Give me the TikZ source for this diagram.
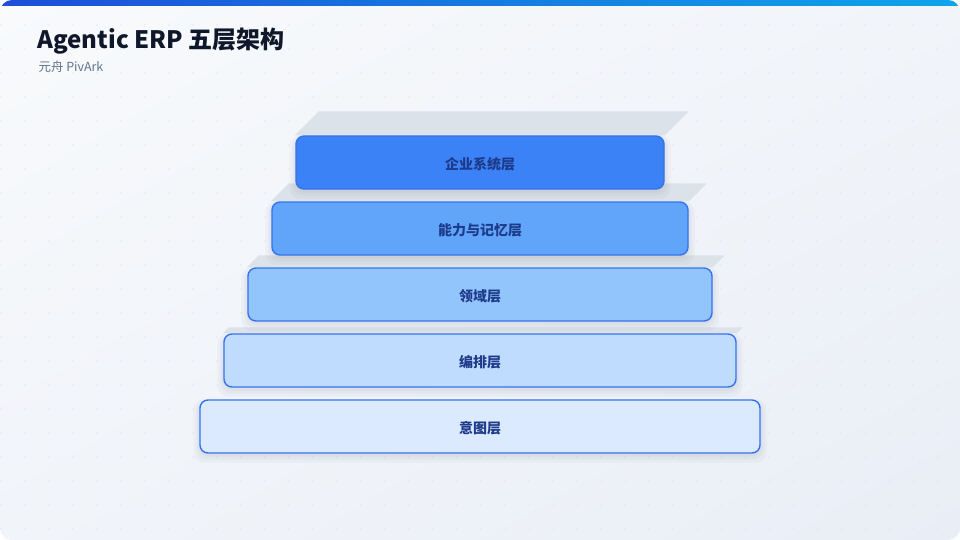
\documentclass[tikz,border=0pt]{standalone}
\usepackage{fontspec}
\setmainfont{Noto Sans CJK SC}
\usetikzlibrary{shadings}
\pgfdeclarelayer{shad}
\pgfsetlayers{shad,main}
\definecolor{bgA}{HTML}{F8FAFC}
\definecolor{bgB}{HTML}{F1F4F9}
\definecolor{bgC}{HTML}{E9EEF6}
\definecolor{barA}{HTML}{1D4ED8}
\definecolor{barB}{HTML}{0EA5E9}
\definecolor{titlec}{HTML}{0F172A}
\definecolor{subc}{HTML}{64748B}
\definecolor{dotc}{HTML}{E3E8EF}
\definecolor{backc}{HTML}{DCE2EA}
\definecolor{edgec}{HTML}{3673EE}
\definecolor{labc}{HTML}{1E3A8A}
\definecolor{shadc}{HTML}{1E293B}
\definecolor{fA}{HTML}{3B82F6}
\definecolor{fB}{HTML}{60A5FA}
\definecolor{fC}{HTML}{93C5FD}
\definecolor{fD}{HTML}{BFDBFE}
\definecolor{fE}{HTML}{DBEAFE}
\tikzset{
  layerbox/.style={draw=edgec, line width=1.4pt, rounded corners=8pt,
    minimum height=53pt, inner sep=0pt, text=labc,
    text height=13.2pt, text depth=0pt,
    font=\fontsize{14}{16}\selectfont\bfseries},
  backslab/.style={fill=backc},
  softshadow/.style={fill=shadc, fill opacity=0.03, rounded corners=11pt},
}
\newcommand{\layershadow}[1]{%
  \fill[softshadow] ([shift={(-6,0)}]#1.north west) rectangle ([shift={(6,9)}]#1.south east);
  \fill[softshadow] ([shift={(-3,1)}]#1.north west) rectangle ([shift={(3,6)}]#1.south east);
  \fill[softshadow] ([shift={(-1,1)}]#1.north west) rectangle ([shift={(1,3)}]#1.south east);
}
\newcommand{\layerslab}[2]{%
  \fill[backslab] ([xshift=-0.5pt]#1.north west) -- ++(#2,-#2) -- ([shift={(#2,-#2)}]#1.north east) -- (#1.north east) -- cycle;
}
\begin{document}
\begin{tikzpicture}[x=1pt,y=-1pt]
\useasboundingbox (0,0) rectangle (960,540);
\begin{pgfonlayer}{shad}
\fill[white] (0,0) rectangle (960,540);
\begin{scope}
  \clip[rounded corners=12pt] (0,0) rectangle (960,540);
  \shade[upper left=bgA, upper right=bgB, lower left=bgB, lower right=bgC] (0,0) rectangle (960,540);
  \foreach \i in {0,...,39} {
    \foreach \j in {0,...,22} {
      \fill[dotc] (24*\i+1,24*\j+1) circle (0.8pt);
    }
  }
  \shade[left color=barA, right color=barB] (0,0) rectangle (960,6);
\end{scope}
\end{pgfonlayer}
\node[anchor=base west, text=titlec, font=\fontsize{24}{28}\selectfont\bfseries] (title) at (34,49) {Agentic ERP 五层架构};
\node[anchor=base west, text=subc, font=\fontsize{12.5}{15}\selectfont] (subtitle) at (35,72) {元舟 PivArk};
% layers
\node[layerbox, fill=fE, minimum width=560pt] (intent) at (480,426.5) {意图层};
\node[layerbox, fill=fD, minimum width=512pt] (orch) at (480,360.5) {编排层};
\node[layerbox, fill=fC, minimum width=464pt] (domain) at (480,294.5) {领域层};
\node[layerbox, fill=fB, minimum width=416pt] (cap) at (480,228.5) {能力与记忆层};
\node[layerbox, fill=fA, minimum width=368pt] (ent) at (480,162.5) {企业系统层};
\begin{pgfonlayer}{shad}
  \layerslab{ent}{24}
  \layerslab{cap}{18}
  \layerslab{domain}{12}
  \layerslab{orch}{6}
  \layershadow{ent}
  \layershadow{cap}
  \layershadow{domain}
  \layershadow{orch}
  \layershadow{intent}
\end{pgfonlayer}
\end{tikzpicture}
\end{document}
